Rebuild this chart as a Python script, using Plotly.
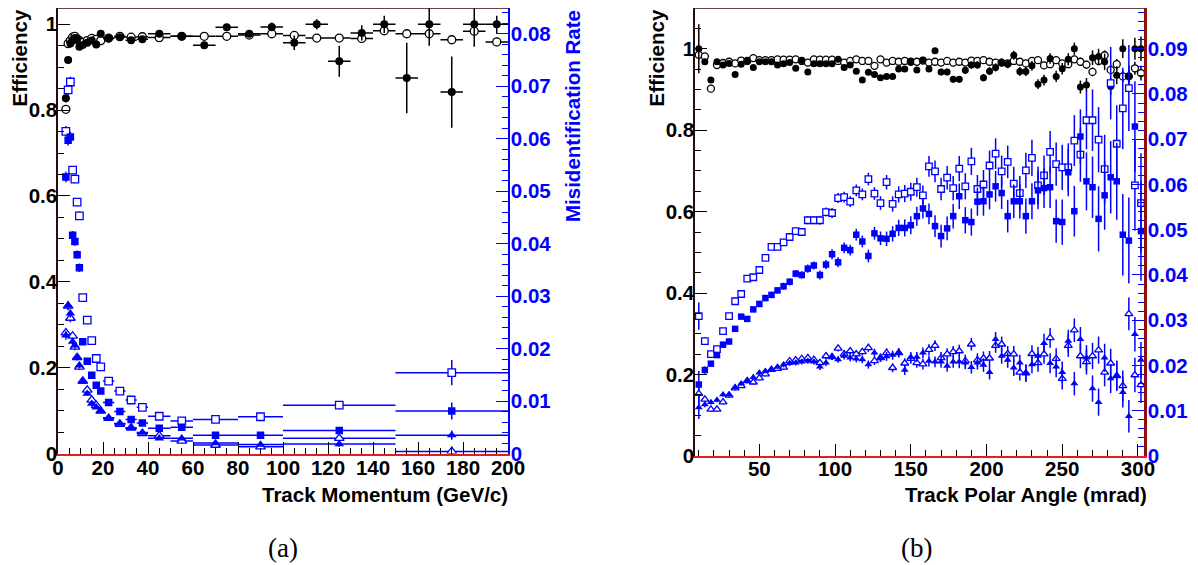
import plotly.graph_objects as go

# ---------------- (a) efficiency / mis-id vs track momentum ----------------
p_edges_eff = [3, 4, 5, 6, 7, 8, 9, 10, 12, 14, 16, 18, 20, 25, 30, 35, 40,
               50, 60, 70, 80, 90, 100, 110, 120, 130, 140, 150, 160, 170, 180, 190, 200]
p_edges_mis = [3, 4, 5, 6, 7, 8, 9, 10, 12, 14, 16, 18, 20, 25, 30, 35, 40,
               50, 60, 80, 100, 150, 200]

eff_filled_p = [0.828, 0.917, 0.955, 0.962, 0.968, 0.965, 0.948, 0.952, 0.957, 0.962, 0.953, 0.978,
                0.967, 0.970, 0.963, 0.965, 0.978, 0.972, 0.951, 0.993, 0.978, 0.994, 0.957, 1.000,
                0.914, 0.980, 1.000, 0.875, 1.000, 0.842, 1.000, 1.000]
eff_filled_p_err = [0.010, 0.008, 0.005, 0.004, 0.004, 0.004, 0.004, 0.004, 0.004, 0.004, 0.004, 0.004,
                    0.003, 0.003, 0.004, 0.004, 0.004, 0.005, 0.007, 0.007, 0.008, 0.010, 0.017, 0.012,
                    0.036, 0.018, 0.020, 0.082, 0.050, 0.083, 0.052, 0.020]
eff_open_p = [0.802, 0.955, 0.962, 0.970, 0.972, 0.966, 0.962, 0.958, 0.962, 0.967, 0.965, 0.962,
              0.968, 0.972, 0.970, 0.971, 0.969, 0.972, 0.972, 0.972, 0.975, 0.978, 0.974, 0.968,
              0.968, 0.967, 0.985, 0.978, 0.978, 0.964, 0.984, 0.959]
eff_open_p_err = [0.008, 0.004, 0.003, 0.003, 0.003, 0.003, 0.003, 0.003, 0.003, 0.003, 0.003, 0.003,
                  0.003, 0.003, 0.003, 0.003, 0.003, 0.003, 0.004, 0.004, 0.004, 0.004, 0.006, 0.005,
                  0.005, 0.005, 0.006, 0.006, 0.010, 0.007, 0.007, 0.010]

mis_sq_open_p = [0.0614, 0.0693, 0.0708, 0.0540, 0.0523, 0.0479, 0.0453, 0.0297, 0.0254, 0.0215, 0.0181,
                 0.0165, 0.0138, 0.0119, 0.0102, 0.0088, 0.0071, 0.0062, 0.0065, 0.0070, 0.0092, 0.0154]
mis_sq_open_p_err = [0.0010, 0.0010, 0.0010, 0.0008, 0.0008, 0.0008, 0.0008, 0.0005, 0.0005, 0.0005, 0.0004,
                     0.0004, 0.0003, 0.0003, 0.0003, 0.0003, 0.0003, 0.0003, 0.0004, 0.0006, 0.0008, 0.0024]
mis_sq_filled_p = [0.0527, 0.0597, 0.0603, 0.0416, 0.0404, 0.0379, 0.0354, 0.0213, 0.0176, 0.0149, 0.0130,
                   0.0119, 0.0097, 0.0080, 0.0065, 0.0058, 0.0048, 0.0050, 0.0035, 0.0035, 0.0044, 0.0081]
mis_sq_filled_p_err = [0.0010, 0.0010, 0.0010, 0.0008, 0.0008, 0.0008, 0.0008, 0.0005, 0.0005, 0.0005, 0.0004,
                       0.0004, 0.0003, 0.0003, 0.0003, 0.0003, 0.0003, 0.0003, 0.0003, 0.0004, 0.0006, 0.0016]
mis_tri_open_p = [0.0230, 0.0281, 0.0258, 0.0224, 0.0203, 0.0183, 0.0165, 0.0138, 0.0121, 0.0102, 0.0092,
                  0.0081, 0.0067, 0.0056, 0.0049, 0.0038, 0.0034, 0.0024, 0.0016, 0.0013, 0.0029, 0.0004]
mis_tri_filled_p = [0.0225, 0.0282, 0.0267, 0.0213, 0.0206, 0.0184, 0.0168, 0.0137, 0.0114, 0.0095, 0.0088,
                    0.0081, 0.0068, 0.0057, 0.0048, 0.0040, 0.0029, 0.0029, 0.0020, 0.0017, 0.0018, 0.0035]
mis_tri_p_err = [0.0008, 0.0008, 0.0008, 0.0006, 0.0006, 0.0006, 0.0006, 0.0004, 0.0004, 0.0004, 0.0003,
                 0.0003, 0.0003, 0.0002, 0.0002, 0.0002, 0.0002, 0.0002, 0.0002, 0.0003, 0.0005, 0.0009]

# ---------------- (b) efficiency / mis-id vs polar angle ----------------
theta = [10, 14, 18, 22, 26, 30, 34, 38, 42, 46, 50, 54, 58, 62, 66, 70, 74, 78, 82, 86,
         90, 94, 98, 102, 106, 110, 114, 118, 122, 126, 130, 134, 138, 142, 146, 150, 154, 158, 162, 166,
         170, 174, 178, 182, 186, 190, 194, 198, 202, 206, 210, 214, 218, 222, 226, 230, 234, 238, 242, 246,
         250, 254, 258, 262, 266, 270, 274, 278, 282, 286, 290, 294, 298, 302]

eff_filled_t = [1.000, 0.968, 0.923, 0.968, 0.960, 0.964, 0.937, 0.962, 0.970, 0.954, 0.968, 0.968, 0.968, 0.960,
                0.963, 0.966, 0.952, 0.971, 0.943, 0.963, 0.963, 0.963, 0.963, 0.974, 0.954, 0.960, 0.945, 0.923,
                0.942, 0.937, 0.929, 0.932, 0.932, 0.950, 0.950, 0.968, 0.948, 0.972, 0.950, 0.995, 0.943, 0.943,
                0.925, 0.925, 0.947, 0.960, 0.960, 0.929, 0.945, 0.954, 0.966, 0.962, 0.984, 0.944, 0.944, 0.958,
                0.913, 0.923, 0.976, 0.932, 0.951, 0.974, 1.000, 0.906, 0.911, 0.978, 0.981, 0.968, 0.907, 0.935,
                1.000, 0.933, 1.000, 1.000]
eff_filled_t_err = [0.060, 0.005, 0.005, 0.004, 0.004, 0.004, 0.004, 0.004, 0.004, 0.004, 0.004, 0.004, 0.004, 0.004,
                    0.004, 0.004, 0.004, 0.004, 0.004, 0.004, 0.004, 0.004, 0.004, 0.004, 0.004, 0.005, 0.005, 0.005,
                    0.005, 0.005, 0.005, 0.006, 0.006, 0.006, 0.006, 0.006, 0.007, 0.007, 0.007, 0.007, 0.008, 0.008,
                    0.008, 0.008, 0.009, 0.009, 0.009, 0.009, 0.010, 0.010, 0.010, 0.010, 0.011, 0.011, 0.011, 0.012,
                    0.012, 0.013, 0.013, 0.014, 0.014, 0.015, 0.015, 0.016, 0.017, 0.018, 0.019, 0.020, 0.021, 0.022,
                    0.023, 0.025, 0.027, 0.030]
eff_open_t = [0.985, 0.981, 0.902, 0.960, 0.965, 0.968, 0.964, 0.971, 0.970, 0.977, 0.972, 0.972, 0.972, 0.974,
              0.973, 0.973, 0.974, 0.970, 0.966, 0.974, 0.973, 0.973, 0.973, 0.970, 0.966, 0.970, 0.974, 0.970,
              0.970, 0.958, 0.974, 0.966, 0.970, 0.968, 0.970, 0.968, 0.968, 0.971, 0.966, 0.968, 0.966, 0.970,
              0.966, 0.968, 0.966, 0.971, 0.970, 0.972, 0.968, 0.966, 0.966, 0.964, 0.970, 0.968, 0.964, 0.970,
              0.972, 0.959, 0.962, 0.972, 0.964, 0.962, 0.974, 0.968, 0.961, 0.943, 0.970, 0.984, 0.948, 0.962,
              0.932, 0.932, 0.952, 0.940]
eff_open_t_err = [0.010, 0.004, 0.004, 0.003, 0.003, 0.003, 0.003, 0.003, 0.003, 0.003, 0.003, 0.003, 0.003, 0.003,
                  0.003, 0.003, 0.003, 0.003, 0.003, 0.003, 0.003, 0.003, 0.003, 0.003, 0.003, 0.003, 0.003, 0.003,
                  0.003, 0.003, 0.004, 0.004, 0.004, 0.004, 0.004, 0.004, 0.004, 0.004, 0.004, 0.004, 0.005, 0.005,
                  0.005, 0.005, 0.005, 0.005, 0.005, 0.005, 0.006, 0.006, 0.006, 0.006, 0.006, 0.006, 0.007, 0.007,
                  0.007, 0.007, 0.008, 0.008, 0.008, 0.009, 0.009, 0.010, 0.010, 0.011, 0.011, 0.012, 0.012, 0.013,
                  0.014, 0.015, 0.016, 0.018]

mis_sq_filled_t = [0.0158, 0.0190, 0.0204, 0.0223, 0.0246, 0.0253, 0.0281, 0.0308, 0.0303, 0.0324, 0.0336, 0.0349,
                   0.0356, 0.0366, 0.0375, 0.0385, 0.0403, 0.0400, 0.0414, 0.0421, 0.0400, 0.0423, 0.0446, 0.0428,
                   0.0460, 0.0455, 0.0489, 0.0474, 0.0442, 0.0492, 0.0481, 0.0480, 0.0491, 0.0504, 0.0504, 0.0510,
                   0.0530, 0.0547, 0.0535, 0.0508, 0.0486, 0.0503, 0.0530, 0.0574, 0.0521, 0.0517, 0.0562, 0.0563,
                   0.0578, 0.0596, 0.0581, 0.0530, 0.0563, 0.0563, 0.0530, 0.0563, 0.0587, 0.0592, 0.0594, 0.0519,
                   0.0517, 0.0627, 0.0541, 0.0706, 0.0607, 0.0594, 0.0524, 0.0576, 0.0616, 0.0607, 0.0489, 0.0476,
                   0.0728, 0.0497]
mis_sq_open_t = [0.0309, 0.0254, 0.0225, 0.0236, 0.0276, 0.0309, 0.0342, 0.0358, 0.0392, 0.0395, 0.0411, 0.0438,
                 0.0462, 0.0462, 0.0472, 0.0484, 0.0497, 0.0495, 0.0521, 0.0521, 0.0521, 0.0539, 0.0537, 0.0570,
                 0.0572, 0.0562, 0.0587, 0.0578, 0.0612, 0.0580, 0.0559, 0.0605, 0.0557, 0.0578, 0.0580, 0.0584,
                 0.0594, 0.0576, 0.0640, 0.0629, 0.0590, 0.0615, 0.0592, 0.0635, 0.0596, 0.0651, 0.0590, 0.0600,
                 0.0642, 0.0668, 0.0629, 0.0650, 0.0602, 0.0581, 0.0631, 0.0659, 0.0598, 0.0620, 0.0672, 0.0645,
                 0.0638, 0.0638, 0.0697, 0.0666, 0.0742, 0.0742, 0.0699, 0.0634, 0.0824, 0.0690, 0.0768, 0.0813,
                 0.0598, 0.0559]
mis_sq_t_err = [0.0030, 0.0008, 0.0006, 0.0006, 0.0006, 0.0006, 0.0006, 0.0006, 0.0006, 0.0006, 0.0007, 0.0007,
                0.0007, 0.0007, 0.0008, 0.0008, 0.0008, 0.0008, 0.0009, 0.0009, 0.0010, 0.0010, 0.0011, 0.0011,
                0.0012, 0.0012, 0.0013, 0.0013, 0.0014, 0.0014, 0.0015, 0.0016, 0.0017, 0.0018, 0.0019, 0.0020,
                0.0021, 0.0022, 0.0023, 0.0024, 0.0025, 0.0026, 0.0027, 0.0028, 0.0029, 0.0030, 0.0031, 0.0032,
                0.0033, 0.0034, 0.0035, 0.0036, 0.0037, 0.0038, 0.0039, 0.0040, 0.0042, 0.0044, 0.0046, 0.0048,
                0.0050, 0.0053, 0.0056, 0.0060, 0.0064, 0.0068, 0.0072, 0.0076, 0.0080, 0.0085, 0.0090, 0.0095,
                0.0100, 0.0110]
mis_tri_filled_t = [0.0107, 0.0114, 0.0119, 0.0124, 0.0136, 0.0136, 0.0152, 0.0160, 0.0166, 0.0174, 0.0184, 0.0188,
                    0.0191, 0.0197, 0.0202, 0.0205, 0.0206, 0.0208, 0.0210, 0.0208, 0.0197, 0.0206, 0.0219, 0.0213,
                    0.0221, 0.0217, 0.0215, 0.0213, 0.0202, 0.0228, 0.0217, 0.0220, 0.0223, 0.0228, 0.0190, 0.0219,
                    0.0219, 0.0228, 0.0210, 0.0208, 0.0208, 0.0199, 0.0208, 0.0208, 0.0206, 0.0196, 0.0206, 0.0201,
                    0.0185, 0.0258, 0.0221, 0.0212, 0.0195, 0.0206, 0.0183, 0.0202, 0.0221, 0.0249, 0.0205, 0.0197,
                    0.0185, 0.0254, 0.0160, 0.0258, 0.0217, 0.0149, 0.0119, 0.0217, 0.0171, 0.0178, 0.0141, 0.0088,
                    0.0269, 0.0212]
mis_tri_open_t = [0.0138, 0.0125, 0.0103, 0.0103, 0.0119, 0.0134, 0.0150, 0.0155, 0.0166, 0.0163, 0.0172, 0.0181,
                  0.0191, 0.0193, 0.0196, 0.0210, 0.0212, 0.0215, 0.0217, 0.0213, 0.0206, 0.0221, 0.0219, 0.0238,
                  0.0225, 0.0232, 0.0225, 0.0230, 0.0239, 0.0210, 0.0217, 0.0228, 0.0195, 0.0228, 0.0205, 0.0215,
                  0.0206, 0.0203, 0.0235, 0.0244, 0.0217, 0.0225, 0.0230, 0.0232, 0.0210, 0.0247, 0.0212, 0.0216,
                  0.0216, 0.0244, 0.0247, 0.0226, 0.0225, 0.0185, 0.0183, 0.0226, 0.0206, 0.0225, 0.0261, 0.0215,
                  0.0171, 0.0244, 0.0278, 0.0221, 0.0208, 0.0221, 0.0234, 0.0185, 0.0205, 0.0177, 0.0155, 0.0314,
                  0.0179, 0.0157]
mis_tri_t_err = [0.0025, 0.0006, 0.0005, 0.0005, 0.0005, 0.0005, 0.0005, 0.0005, 0.0005, 0.0005, 0.0005, 0.0005,
                 0.0005, 0.0005, 0.0006, 0.0006, 0.0006, 0.0006, 0.0006, 0.0006, 0.0007, 0.0007, 0.0007, 0.0007,
                 0.0008, 0.0008, 0.0008, 0.0008, 0.0009, 0.0009, 0.0009, 0.0010, 0.0010, 0.0010, 0.0011, 0.0011,
                 0.0011, 0.0012, 0.0012, 0.0012, 0.0013, 0.0013, 0.0013, 0.0014, 0.0014, 0.0014, 0.0015, 0.0015,
                 0.0016, 0.0016, 0.0017, 0.0017, 0.0018, 0.0018, 0.0019, 0.0019, 0.0020, 0.0021, 0.0022, 0.0023,
                 0.0024, 0.0025, 0.0026, 0.0027, 0.0028, 0.0029, 0.0030, 0.0031, 0.0032, 0.0033, 0.0034, 0.0036,
                 0.0038, 0.0040]

BLUE = '#0000ff'
FONT = 'Liberation Sans'
FS = 20.5

# the page body has an 8px margin, so the figure is 16px smaller than the window
W, H = 1190, 557


def px(X):
    return (X - 8) / W


def py(Y):
    return 1 - (Y - 8) / H


def centers(edges):
    return [(a + b) / 2 for a, b in zip(edges[:-1], edges[1:])]


def halfwidths(edges):
    return [(b - a) / 2 for a, b in zip(edges[:-1], edges[1:])]


def points(x, y, err, symbol, color, filled, size, xa, ya, xerr=None):
    marker = dict(symbol=symbol, size=size,
                  color=color if filled else 'white',
                  line=dict(color=color, width=0 if filled else 1.3))
    tr = go.Scatter(x=x, y=y, mode='markers', marker=marker, xaxis=xa, yaxis=ya,
                    error_y=dict(type='data', array=err, color=color, thickness=1.5, width=0),
                    hoverinfo='x+y')
    if xerr is not None:
        tr.error_x = dict(type='data', array=xerr, color=color, thickness=1.5, width=0)
    return tr


pe, pw = centers(p_edges_eff), halfwidths(p_edges_eff)
pm, pmw = centers(p_edges_mis), halfwidths(p_edges_mis)

fig = go.Figure()
# panel (a)
fig.add_trace(points(pm, mis_sq_open_p, mis_sq_open_p_err, 'square', BLUE, False, 7.5, 'x', 'y2', pmw))
fig.add_trace(points(pm, mis_sq_filled_p, mis_sq_filled_p_err, 'square', BLUE, True, 7.5, 'x', 'y2', pmw))
fig.add_trace(points(pm, mis_tri_open_p, mis_tri_p_err, 'triangle-up', BLUE, False, 8.5, 'x', 'y2', pmw))
fig.add_trace(points(pm, mis_tri_filled_p, mis_tri_p_err, 'triangle-up', BLUE, True, 8.5, 'x', 'y2', pmw))
fig.add_trace(points(pe, eff_open_p, eff_open_p_err, 'circle', 'black', False, 8, 'x', 'y', pw))
fig.add_trace(points(pe, eff_filled_p, eff_filled_p_err, 'circle', 'black', True, 8, 'x', 'y', pw))
# panel (b)
fig.add_trace(points(theta, mis_sq_open_t, mis_sq_t_err, 'square', BLUE, False, 6.5, 'x2', 'y4'))
fig.add_trace(points(theta, mis_sq_filled_t, mis_sq_t_err, 'square', BLUE, True, 6.5, 'x2', 'y4'))
fig.add_trace(points(theta, mis_tri_open_t, mis_tri_t_err, 'triangle-up', BLUE, False, 7, 'x2', 'y4'))
fig.add_trace(points(theta, mis_tri_filled_t, mis_tri_t_err, 'triangle-up', BLUE, True, 7, 'x2', 'y4'))
fig.add_trace(points(theta, eff_open_t, eff_open_t_err, 'circle', 'black', False, 7, 'x2', 'y3'))
fig.add_trace(points(theta, eff_filled_t, eff_filled_t_err, 'circle', 'black', True, 7, 'x2', 'y3'))

YDOM_A = [py(453.5), py(8)]
YDOM_B = [py(456), py(8)]
tickfont = dict(family=FONT, size=FS, color='black', weight='bold')
bluefont = dict(family=FONT, size=FS, color=BLUE, weight='bold')


def axis(**kw):
    d = dict(showgrid=False, zeroline=False, showline=True, linewidth=1.5, ticks='inside',
             ticklen=12, tickwidth=1, tickcolor='black', tickfont=tickfont, fixedrange=True)
    d.update(kw)
    return d


fig.update_layout(
    width=W, height=H, showlegend=False,
    margin=dict(l=0, r=0, t=0, b=0, autoexpand=False),
    paper_bgcolor='white', plot_bgcolor='white',
    xaxis=axis(domain=[px(58), px(508)], range=[0, 200], dtick=20, tick0=0, anchor='y',
               linecolor='#e02020', ticklabelstandoff=-5,
               minor=dict(dtick=5, ticklen=6, ticks='inside', tickcolor='black')),
    yaxis=axis(domain=YDOM_A, range=[0, 1.038], dtick=0.2, tick0=0, anchor='x', linecolor='#2a0a0a',
               ticklabelstandoff=-5,
               minor=dict(dtick=0.05, ticklen=6, ticks='inside', tickcolor='black')),
    yaxis2=axis(overlaying='y', side='right', anchor='x', range=[0, 0.0849], dtick=0.01, tick0=0,
                linecolor=BLUE, tickcolor=BLUE, tickfont=bluefont, ticklabelstandoff=-3,
                minor=dict(dtick=0.002, ticklen=6, ticks='inside', tickcolor=BLUE)),
    xaxis2=axis(domain=[px(695), px(1144)], range=[7.5, 304], dtick=50, tick0=0, anchor='y3',
                linecolor='#e02020', ticklabelstandoff=-6,
                minor=dict(dtick=10, ticklen=6, ticks='inside', tickcolor='black')),
    yaxis3=axis(domain=YDOM_B, range=[0, 1.10], dtick=0.2, tick0=0, anchor='x2', linecolor='#2a0a0a',
                ticklabelstandoff=-5,
                minor=dict(dtick=0.05, ticklen=6, ticks='inside', tickcolor='black')),
    yaxis4=axis(overlaying='y3', side='right', anchor='x2', range=[0, 0.099], dtick=0.01, tick0=0,
                linecolor='#8b1010', linewidth=2.5, tickcolor=BLUE, tickfont=bluefont,
                ticklabelstandoff=-3,
                minor=dict(dtick=0.002, ticklen=6, ticks='inside', tickcolor=BLUE)),
)

# top frame lines
for x0, x1 in [(58, 508), (695, 1144)]:
    fig.add_shape(type='line', xref='paper', yref='paper', x0=px(x0), x1=px(x1),
                  y0=py(8), y1=py(8), line=dict(color='#2a0a0a', width=1.5))

titlefont = dict(family=FONT, size=FS, color='black', weight='bold')
notes = [
    dict(text='Efficiency', x=px(19), y=py(8), xanchor='center', yanchor='top', textangle=-90),
    dict(text='Efficiency', x=px(656), y=py(8), xanchor='center', yanchor='top', textangle=-90),
    dict(text='Misidentification Rate', x=px(572), y=py(8), xanchor='center', yanchor='top',
         textangle=-90, font=dict(bluefont)),
    dict(text='Track Momentum (GeV/c)', x=px(510), y=py(494), xanchor='right', yanchor='middle'),
    dict(text='Track Polar Angle (mrad)', x=px(1149), y=py(494), xanchor='right', yanchor='middle'),
    dict(text='(a)', x=px(283), y=py(548), xanchor='center', yanchor='middle',
         font=dict(family='Liberation Serif', size=27, color='black')),
    dict(text='(b)', x=px(917), y=py(548), xanchor='center', yanchor='middle',
         font=dict(family='Liberation Serif', size=27, color='black')),
]
for n in notes:
    n.setdefault('font', titlefont)
    fig.add_annotation(xref='paper', yref='paper', showarrow=False, **n)

fig.write_html('out.html')
